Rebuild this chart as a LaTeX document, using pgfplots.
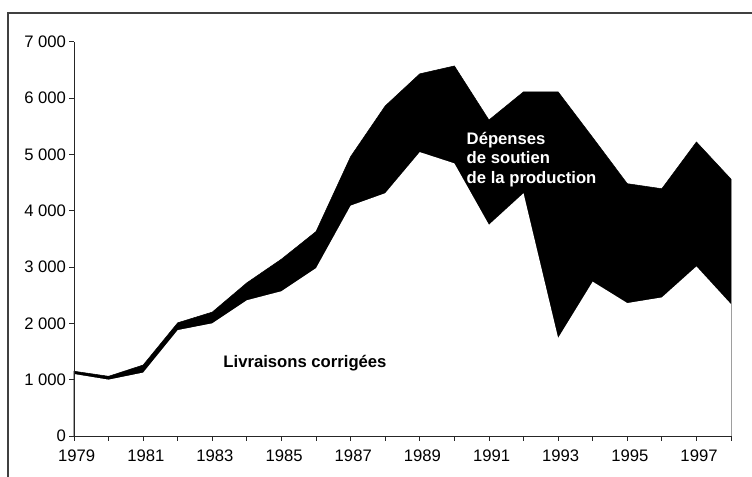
\documentclass[border=0pt]{standalone}
\usepackage{fontspec}
\setmainfont{Liberation Sans}
\usepackage{pgfplots}
\usepackage{pgfplotstable}
\pgfplotsset{compat=1.18}

% upper edge = total, lower edge = livraisons corrigees
\pgfplotstableread{
year total livr
1979 1150 1100
1980 1060 1000
1981 1260 1125
1982 2010 1880
1983 2200 2000
1984 2720 2410
1985 3140 2570
1986 3630 2980
1987 4960 4090
1988 5860 4310
1989 6430 5040
1990 6570 4840
1991 5610 3750
1992 6110 4310
1993 6110 1740
1994 5300 2740
1995 4480 2360
1996 4390 2460
1997 5220 3010
1998 4560 2340
}\data

\begin{document}
\begin{tikzpicture}
\useasboundingbox (-55.5pt,-30.75pt) rectangle (508.5pt,327pt);
\draw[black!75, line width=0.9pt] (-49.5pt,-40pt) -- (-49.5pt,317.25pt) -- (520pt,317.25pt);
\begin{axis}[
    scale only axis,
    width=492.75pt, height=295.7pt,
    xmin=1979, xmax=1998,
    ymin=0, ymax=7000,
    axis lines*=left,
    axis on top,
    axis line style={line width=0.6pt, black!85},
    tick align=outside,
    major tick length=3.5pt,
    tick style={line width=0.6pt, black!85},
    xtick={1979,...,1998},
    xticklabels={1979,,1981,,1983,,1985,,1987,,1989,,1991,,1993,,1995,,1997,},
    ytick={0,1000,...,7000},
    yticklabels={0,1 000,2 000,3 000,4 000,5 000,6 000,7 000},
    every tick label/.append style={font=\fontsize{12.5}{14}\selectfont},
    yticklabel style={xshift=1pt},
    xticklabel style={yshift=-3.5pt, xshift=2pt},
    /pgf/number format/assume math mode=true,
    clip=false,
]
\addplot[fill=black, draw=black, line width=0.4pt] table[x=year, y=total] {\data} \closedcycle;
\addplot[fill=white, draw=none] table[x=year, y=livr] {\data} \closedcycle;
\node[font=\fontsize{12.5}{14.5}\selectfont\bfseries] at (axis cs:1985.68,1300) {Livraisons corrigées};
\node[font=\fontsize{12.5}{14.5}\selectfont\bfseries, text=white, align=left, anchor=north west, inner sep=0pt]
    at (axis cs:1990.35,5400) {Dépenses\\de soutien\\de la production};
\end{axis}
\end{tikzpicture}
\end{document}
